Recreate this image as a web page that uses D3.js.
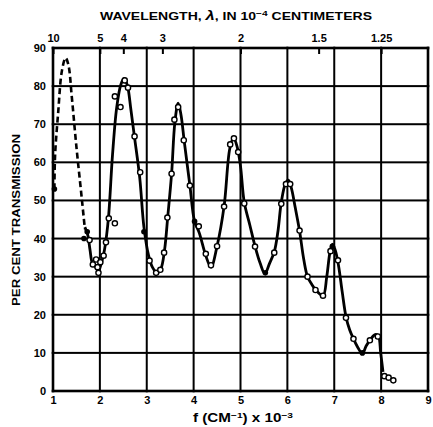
<!DOCTYPE html>
<html>
<head>
<meta charset="utf-8">
<script src="https://cdn.jsdelivr.net/npm/d3@7"></script>
<style>
  html, body { margin: 0; padding: 0; background: #fff; }
  svg { display: block; }
  text { font-family: "Liberation Sans", Arial, sans-serif; font-weight: bold; fill: #000; }
</style>
</head>
<body>
<div id="chart"></div>
<script>
// ---- data ----
const freqTicks = [1, 2, 3, 4, 5, 6, 7, 8, 9];               // f (cm^-1) x 10^-3
const transTicks = [0, 10, 20, 30, 40, 50, 60, 70, 80, 90];   // per cent transmission
const wavelengthTicks = [10, 5, 4, 3, 2, 1.5, 1.25];          // lambda in 10^-4 cm
const wavelengthLabels = ["10", "5", "4", "3", "2", "1.5", "1.25"];

// dashed (extrapolated) curve
const dashedCurve = [
  [1.03, 53], [1.045, 62], [1.11, 73], [1.19, 84], [1.27, 87.4], [1.33, 85.5],
  [1.40, 77.3], [1.50, 64], [1.61, 51], [1.68, 42.5]
];
// solid measured curve
const solidCurve = [
  [1.68, 43], [1.74, 41], [1.79, 37], [1.84, 33.5], [1.91, 32.5], [1.97, 31.5],
  [2.03, 33.5], [2.09, 36.5], [2.14, 40.5], [2.19, 46.5], [2.27, 62], [2.36, 74.5],
  [2.45, 80.5], [2.52, 82], [2.59, 80], [2.66, 74], [2.74, 66.5], [2.85, 56],
  [2.94, 43], [3.04, 35.5], [3.12, 32.5], [3.22, 31], [3.30, 32], [3.38, 37],
  [3.45, 46], [3.53, 57], [3.60, 70.5], [3.67, 75.5], [3.73, 72.5], [3.80, 65.5],
  [3.92, 54], [4.02, 44.5], [4.12, 41.5], [4.26, 35.5], [4.37, 32.5], [4.50, 38],
  [4.65, 48.5], [4.77, 63.5], [4.85, 66.5], [4.93, 64], [5.00, 59], [5.08, 49.5],
  [5.20, 43.5], [5.31, 38], [5.42, 33.5], [5.52, 30.8], [5.62, 33.5], [5.72, 36.5],
  [5.80, 42], [5.87, 49.5], [5.96, 54.5], [6.02, 55.3], [6.08, 53.5], [6.17, 48],
  [6.26, 42], [6.35, 34.5], [6.43, 30], [6.52, 28], [6.60, 26.6], [6.76, 25],
  [6.84, 30], [6.91, 36.5], [6.96, 38.5], [7.02, 37], [7.09, 33], [7.17, 26],
  [7.25, 19.5], [7.33, 16], [7.41, 13.7], [7.50, 11.5], [7.60, 9.8], [7.68, 11.8],
  [7.77, 13.5], [7.87, 14.8], [7.94, 14.5], [7.99, 10], [8.04, 5]
];
// open-circle observations
const openPoints = [
  [1.78, 39.6], [1.85, 33.2], [1.92, 34.5], [1.95, 32.5], [1.97, 31], [2.01, 33.8],
  [2.08, 35.5], [2.13, 39], [2.19, 45.3], [2.32, 44], [2.32, 77.3], [2.44, 74.5],
  [2.53, 81.5], [2.60, 79.6], [2.74, 66.8], [2.86, 57.4], [3.06, 34.2], [3.20, 31],
  [3.29, 31.8], [3.37, 36.3], [3.44, 45.5], [3.53, 57], [3.59, 71.2], [3.67, 74.5],
  [3.79, 65.8], [3.92, 53.9], [4.11, 43.2], [4.26, 36], [4.37, 33], [4.50, 38],
  [4.65, 48.4], [4.78, 64.7], [4.86, 66.3], [4.95, 62.7], [5.08, 49.2], [5.31, 37.9],
  [5.72, 36.3], [5.87, 49.1], [5.97, 54.3], [6.06, 54.3], [6.26, 42.1], [6.43, 30],
  [6.60, 26.5], [6.76, 25], [6.92, 36.7], [7.08, 34.3], [7.25, 19.2], [7.41, 13.7],
  [7.76, 13.3], [7.93, 14.3], [8.07, 3.9], [8.16, 3.5], [8.26, 2.8]
];
// filled points
const filledPoints = [
  [1.03, 53], [1.66, 40], [1.73, 41.8], [2.94, 41.8], [4.02, 44.5], [5.53, 31],
  [6.96, 38], [7.60, 10]
];

// ---- chart ----
const W = 433, H = 427;
const svg = d3.select("#chart").append("svg").attr("width", W).attr("height", H);

const x = d3.scaleLinear().domain([1, 9]).range([53, 428]);
const y = d3.scaleLinear().domain([0, 90]).range([391, 48]);

// grid, drawn as thin filled bars
const gw = 2;
const gridG = svg.append("g").style("fill", "#000");
gridG.selectAll("rect.vgrid").data(freqTicks).join("rect")
  .attr("class", "vgrid")
  .attr("x", d => x(d) - (d === 1 || d === 9 ? 1.3 : gw / 2))
  .attr("width", d => (d === 1 || d === 9 ? 2.6 : gw))
  .attr("y", y(90) - 1.3)
  .attr("height", y(0) - y(90) + 2.6)
  .style("fill", "#000");
gridG.selectAll("rect.hgrid").data(transTicks).join("rect")
  .attr("class", "hgrid")
  .attr("x", x(1) - 1.3)
  .attr("width", x(9) - x(1) + 2.6)
  .attr("y", d => y(d) - (d === 0 || d === 90 ? 1.3 : gw / 2))
  .attr("height", d => (d === 0 || d === 90 ? 2.6 : gw))
  .style("fill", "#000");

// axes
const fontSize = 11;
const styleText = sel => sel.selectAll("text")
  .style("font-size", fontSize + "px")
  .style("font-family", "Liberation Sans, Arial, sans-serif")
  .style("font-weight", "bold");

const bottomAxis = svg.append("g").attr("transform", `translate(0,${y(0)})`)
  .call(d3.axisBottom(x).tickValues(freqTicks).tickSize(0).tickPadding(5).tickFormat(d3.format("d")));
bottomAxis.select(".domain").remove();
styleText(bottomAxis);

const leftAxis = svg.append("g").attr("transform", `translate(${x(1)},0)`)
  .call(d3.axisLeft(y).tickValues(transTicks).tickSize(0).tickPadding(7));
leftAxis.select(".domain").remove();
styleText(leftAxis);

const topAxis = svg.append("g").attr("transform", `translate(0,${y(90)})`)
  .call(d3.axisTop(x).tickValues(wavelengthTicks.map(l => 10 / l))
    .tickSize(0).tickPadding(6)
    .tickFormat((d, i) => wavelengthLabels[i]));
topAxis.select(".domain").remove();
topAxis.selectAll(".tick").append("rect")
  .attr("x", -1).attr("width", 2).attr("y", 0).attr("height", 6)
  .style("fill", "#000");
styleText(topAxis);

// titles
const t1 = svg.append("text").attr("x", 236).attr("y", 20).attr("text-anchor", "middle")
  .style("font-size", "11px").attr("textLength", 272).attr("lengthAdjust", "spacingAndGlyphs");
t1.append("tspan").text("WAVELENGTH, ");
t1.append("tspan").text("λ").style("font-style", "italic").style("font-size", "13px");
t1.append("tspan").text(", IN 10");
t1.append("tspan").text("−4").attr("dy", -4).style("font-size", "8px");
t1.append("tspan").text(" CENTIMETERS").attr("dy", 4);

const t2 = svg.append("text").attr("x", 243).attr("y", 422).attr("text-anchor", "middle")
  .style("font-size", "12px").attr("textLength", 100).attr("lengthAdjust", "spacingAndGlyphs");
t2.append("tspan").text("f (CM");
t2.append("tspan").text("−1").attr("dy", -4).style("font-size", "8px");
t2.append("tspan").text(") x 10").attr("dy", 4);
t2.append("tspan").text("−3").attr("dy", -4).style("font-size", "8px");

svg.append("text").attr("transform", "translate(20,220) rotate(-90)")
  .attr("text-anchor", "middle").style("font-size", "10.5px")
  .attr("textLength", 172).attr("lengthAdjust", "spacingAndGlyphs")
  .text("PER CENT  TRANSMISSION");

// curves
const lineGen = d3.line().x(d => x(d[0])).y(d => y(d[1])).curve(d3.curveCatmullRom.alpha(0.5));
svg.append("path").datum(dashedCurve).attr("d", lineGen)
  .style("fill", "none").style("stroke", "#000").style("stroke-width", "2.6px")
  .style("stroke-dasharray", "6,3.5");
svg.append("path").datum(solidCurve).attr("d", lineGen)
  .style("fill", "none").style("stroke", "#000").style("stroke-width", "2.8px")
  .style("stroke-linejoin", "round");

// markers
svg.append("g").selectAll("circle").data(filledPoints).join("circle")
  .attr("cx", d => x(d[0])).attr("cy", d => y(d[1])).attr("r", 2.8).style("fill", "#000");
svg.append("g").selectAll("circle").data(openPoints).join("circle")
  .attr("cx", d => x(d[0])).attr("cy", d => y(d[1])).attr("r", 2.6)
  .style("fill", "#fff").style("stroke", "#000").style("stroke-width", "1.4px");
</script>
</body>
</html>
